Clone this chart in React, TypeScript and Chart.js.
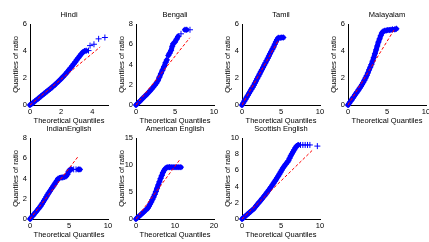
import React, { useEffect, useRef } from 'react';
import { Chart, registerables } from 'chart.js';

Chart.register(...registerables);

const FONT_FAMILY = "'Liberation Sans', Arial, Helvetica, sans-serif";

// ---------- data ----------
const hindiTheo = [0, 0.1, 0.2, 0.3, 0.4, 0.5, 0.6, 0.7, 0.8, 0.9, 1.0, 1.1, 1.2, 1.3, 1.4, 1.5, 1.6, 1.7, 1.8, 1.9, 2.0, 2.1, 2.2, 2.3, 2.4, 2.5, 2.6, 2.7, 2.8, 2.9, 3.0, 3.1, 3.2, 3.3, 3.4, 3.5, 3.6, 3.75, 3.85, 4.1, 4.4, 4.8];
const hindiRatio = [0, 0.08, 0.17, 0.27, 0.36, 0.45, 0.55, 0.64, 0.74, 0.83, 0.93, 1.02, 1.11, 1.21, 1.3, 1.4, 1.5, 1.61, 1.72, 1.83, 1.95, 2.07, 2.19, 2.32, 2.46, 2.6, 2.74, 2.89, 3.04, 3.19, 3.35, 3.5, 3.65, 3.8, 3.92, 4.0, 4.02, 4.03, 4.4, 4.5, 4.9, 5.0];
const hindiRefX = [0, 4.5];
const hindiRefY = [0, 4.3];

const bengaliTheo = [0, 0.2, 0.4, 0.6, 0.8, 1.0, 1.2, 1.4, 1.6, 1.8, 2.0, 2.2, 2.4, 2.6, 2.8, 3.0, 3.2, 3.4, 3.6, 3.8, 3.95, 4.15, 4.3, 4.5, 4.65, 4.76, 4.97, 5.2, 5.4, 5.77, 6.28, 6.5, 6.92];
const bengaliRatio = [0, 0.15, 0.3, 0.45, 0.61, 0.76, 0.91, 1.07, 1.23, 1.4, 1.58, 1.76, 1.95, 2.15, 2.4, 2.75, 3.1, 3.45, 3.8, 4.2, 4.45, 4.9, 5.1, 5.4, 5.8, 6.05, 6.2, 6.5, 6.77, 7.03, 7.43, 7.43, 7.43];
const bengaliRefX = [0, 6.9];
const bengaliRefY = [0, 6.64];

const tamilTheo = [0, 0.15, 0.3, 0.45, 0.6, 0.75, 0.9, 1.05, 1.2, 1.35, 1.5, 1.65, 1.8, 1.95, 2.1, 2.25, 2.4, 2.55, 2.7, 2.85, 3.0, 3.15, 3.3, 3.45, 3.6, 3.75, 3.9, 4.05, 4.2, 4.35, 4.5, 4.66, 4.9, 5.1, 5.3];
const tamilRatio = [0, 0.14, 0.29, 0.43, 0.58, 0.72, 0.87, 1.01, 1.16, 1.3, 1.45, 1.62, 1.78, 1.95, 2.12, 2.29, 2.46, 2.62, 2.79, 2.96, 3.12, 3.29, 3.46, 3.63, 3.8, 3.97, 4.14, 4.3, 4.5, 4.68, 4.85, 4.98, 4.98, 5.0, 5.0];
const tamilRefX = [0, 4.66];
const tamilRefY = [0, 4.79];

const malayalamTheo = [0, 0.15, 0.3, 0.45, 0.6, 0.75, 0.9, 1.05, 1.2, 1.35, 1.5, 1.65, 1.8, 1.95, 2.1, 2.25, 2.4, 2.55, 2.7, 2.85, 3.0, 3.15, 3.3, 3.45, 3.6, 3.75, 3.9, 4.05, 4.2, 4.35, 4.5, 4.7, 4.9, 5.1, 5.3, 5.5, 5.7, 6.0, 6.2];
const malayalamRatio = [0, 0.12, 0.25, 0.37, 0.5, 0.62, 0.75, 0.87, 0.99, 1.12, 1.25, 1.38, 1.52, 1.67, 1.83, 2.0, 2.18, 2.38, 2.6, 2.8, 3.0, 3.25, 3.52, 3.8, 4.08, 4.37, 4.66, 4.9, 5.14, 5.34, 5.45, 5.5, 5.52, 5.55, 5.55, 5.57, 5.6, 5.6, 5.65];
const malayalamRefX = [0, 6.0];
const malayalamRefY = [0, 5.65];

const indianTheo = [0, 0.15, 0.3, 0.45, 0.6, 0.75, 0.9, 1.05, 1.2, 1.35, 1.5, 1.65, 1.8, 1.95, 2.1, 2.25, 2.4, 2.55, 2.7, 2.85, 3.0, 3.15, 3.3, 3.45, 3.6, 3.8, 4.0, 4.2, 4.4, 4.6, 4.8, 4.95, 5.1, 5.3, 5.6, 5.9, 6.2, 6.4];
const indianRatio = [0, 0.13, 0.27, 0.41, 0.55, 0.69, 0.83, 0.97, 1.11, 1.27, 1.45, 1.63, 1.82, 2.0, 2.2, 2.4, 2.58, 2.75, 2.92, 3.09, 3.26, 3.44, 3.62, 3.8, 3.98, 4.05, 4.1, 4.1, 4.15, 4.2, 4.4, 4.7, 4.85, 4.9, 4.9, 4.9, 4.9, 4.9];
const indianRefX = [0, 6.2];
const indianRefY = [0, 6.2];

const americanTheo = [0, 0.3, 0.6, 0.9, 1.2, 1.5, 1.8, 2.1, 2.4, 2.7, 3.0, 3.3, 3.6, 3.9, 4.2, 4.5, 4.8, 5.1, 5.4, 5.7, 6.0, 6.3, 6.6, 6.9, 7.2, 7.5, 7.8, 8.2, 8.6, 9.0, 9.5, 10.0, 10.5, 11.0, 11.5];
const americanRatio = [0, 0.2, 0.4, 0.6, 0.79, 0.99, 1.19, 1.38, 1.58, 1.77, 2.0, 2.35, 2.75, 3.15, 3.6, 4.05, 4.55, 5.1, 5.7, 6.3, 6.9, 7.5, 8.05, 8.6, 9.0, 9.3, 9.5, 9.6, 9.6, 9.6, 9.6, 9.6, 9.6, 9.6, 9.6];
const americanRefX = [0, 11.3];
const americanRefY = [0, 11.05];

const scottishTheo = [0, 0.15, 0.3, 0.45, 0.6, 0.75, 0.9, 1.05, 1.2, 1.35, 1.5, 1.65, 1.8, 1.95, 2.1, 2.25, 2.4, 2.55, 2.7, 2.85, 3.0, 3.15, 3.3, 3.45, 3.6, 3.75, 3.9, 4.05, 4.2, 4.35, 4.5, 4.65, 4.8, 4.95, 5.1, 5.25, 5.4, 5.6, 5.8, 5.95, 6.1, 6.25, 6.4, 6.55, 6.7, 6.85, 7.0, 7.2, 7.5, 7.8, 8.1, 8.4, 8.7, 9.66];
const scottishRatio = [0, 0.12, 0.25, 0.37, 0.5, 0.62, 0.75, 0.87, 1.0, 1.12, 1.25, 1.42, 1.6, 1.78, 1.95, 2.13, 2.3, 2.48, 2.65, 2.83, 3.0, 3.2, 3.4, 3.6, 3.8, 4.0, 4.2, 4.42, 4.65, 4.85, 5.1, 5.3, 5.55, 5.8, 6.05, 6.3, 6.5, 6.75, 7.0, 7.2, 7.5, 7.8, 8.05, 8.3, 8.55, 8.8, 9.0, 9.14, 9.14, 9.14, 9.14, 9.14, 9.14, 9.0];
const scottishRefX = [0, 9.14];
const scottishRefY = [0, 8.6];

// tick labels
const ticks0to4by2 = [0, 2, 4];
const ticks0to6by2 = [0, 2, 4, 6];
const ticks0to8by2 = [0, 2, 4, 6, 8];
const ticks0to10by2 = [0, 2, 4, 6, 8, 10];
const ticks0to10by5 = [0, 5, 10];
const ticks0to20by10 = [0, 10, 20];
const ticks0to15by5 = [0, 5, 10, 15];

const X_TITLE = 'Theoretical Quantiles';
const Y_TITLE = 'Quantiles of ratio';

type PanelSpec = {
  title: string;
  theo: number[];
  ratio: number[];
  refX: number[];
  refY: number[];
  xMax: number;
  yMax: number;
  xTicks: number[];
  yTicks: number[];
  plotLeft: number;
  plotTop: number;
};

const PLOT_W = 78;
const PLOT_H = 81;
const Y_AXIS_W = 30;
const TOP_H = 24;
const X_AXIS_H = 22;
const RIGHT_PAD = 30;

const panels: PanelSpec[] = [
  { title: 'Hindi', theo: hindiTheo, ratio: hindiRatio, refX: hindiRefX, refY: hindiRefY, xMax: 5, yMax: 6, xTicks: ticks0to4by2, yTicks: ticks0to6by2, plotLeft: 30, plotTop: 24 },
  { title: 'Bengali', theo: bengaliTheo, ratio: bengaliRatio, refX: bengaliRefX, refY: bengaliRefY, xMax: 10, yMax: 8, xTicks: ticks0to10by5, yTicks: ticks0to8by2, plotLeft: 136, plotTop: 24 },
  { title: 'Tamil', theo: tamilTheo, ratio: tamilRatio, refX: tamilRefX, refY: tamilRefY, xMax: 10, yMax: 6, xTicks: ticks0to10by5, yTicks: ticks0to6by2, plotLeft: 242, plotTop: 24 },
  { title: 'Malayalam', theo: malayalamTheo, ratio: malayalamRatio, refX: malayalamRefX, refY: malayalamRefY, xMax: 10, yMax: 6, xTicks: ticks0to10by5, yTicks: ticks0to6by2, plotLeft: 348, plotTop: 24 },
  { title: 'IndianEnglish', theo: indianTheo, ratio: indianRatio, refX: indianRefX, refY: indianRefY, xMax: 10, yMax: 8, xTicks: ticks0to10by5, yTicks: ticks0to8by2, plotLeft: 30, plotTop: 138 },
  { title: 'American English', theo: americanTheo, ratio: americanRatio, refX: americanRefX, refY: americanRefY, xMax: 20, yMax: 15, xTicks: ticks0to20by10, yTicks: ticks0to15by5, plotLeft: 136, plotTop: 138 },
  { title: 'Scottish English', theo: scottishTheo, ratio: scottishRatio, refX: scottishRefX, refY: scottishRefY, xMax: 10, yMax: 10, xTicks: ticks0to10by5, yTicks: ticks0to10by2, plotLeft: 242, plotTop: 138 },
];

const font = { family: FONT_FAMILY, size: 7.5, weight: 'normal' as const, lineHeight: 1.2 };
const BLUE = '#0000ff';

// dense runs of markers merge into a solid band; sparse tail markers stay separate
const bandColor = (ctx: any) => {
  const dx = ctx.p1.x - ctx.p0.x;
  const dy = ctx.p1.y - ctx.p0.y;
  return Math.hypot(dx, dy) > 4.5 || Math.abs(dx) > 2 ? 'rgba(0,0,0,0)' : BLUE;
};

function QQPanel({ spec }: { spec: PanelSpec }) {
  const ref = useRef<HTMLCanvasElement | null>(null);
  const w = Y_AXIS_W + PLOT_W + RIGHT_PAD;
  const h = TOP_H + PLOT_H + X_AXIS_H;

  useEffect(() => {
    if (!ref.current) return;
    const points = spec.theo.map((x, i) => ({ x, y: spec.ratio[i] }));
    const refLine = spec.refX.map((x, i) => ({ x, y: spec.refY[i] }));
    const chart = new Chart(ref.current, {
      type: 'scatter',
      data: {
        datasets: [
          {
            data: refLine,
            showLine: true,
            borderColor: '#ff0000',
            borderWidth: 1,
            borderDash: [3, 2],
            pointRadius: 0,
            fill: false,
          },
          {
            data: points,
            pointStyle: 'cross',
            pointRadius: 3,
            pointBorderColor: BLUE,
            pointBackgroundColor: BLUE,
            pointBorderWidth: 1,
            borderColor: BLUE,
            borderWidth: 5,
            borderCapStyle: 'round',
            borderJoinStyle: 'round',
            showLine: true,
            fill: false,
            segment: { borderColor: bandColor },
            clip: false,
          } as any,
        ],
      },
      options: {
        animation: false,
        responsive: false,
        maintainAspectRatio: false,
        devicePixelRatio: 1,
        layout: { padding: 0 },
        plugins: {
          legend: { display: false },
          tooltip: { enabled: false },
          title: {
            display: true,
            text: spec.title,
            color: '#000',
            font,
            padding: { top: 10.5, bottom: 4.5 },
          },
        },
        scales: {
          x: {
            type: 'linear',
            min: 0,
            max: spec.xMax,
            afterBuildTicks: (s: any) => {
              s.ticks = spec.xTicks.map((v) => ({ value: v }));
            },
            afterFit: (s: any) => {
              s.height = X_AXIS_H;
            },
            grid: { display: false, drawTicks: false },
            border: { display: true, color: '#000', width: 1 },
            ticks: { color: '#000', font, padding: 2, maxRotation: 0, autoSkip: false },
            title: { display: true, text: X_TITLE, color: '#000', font, padding: { top: 0, bottom: 1.5 } },
          },
          y: {
            type: 'linear',
            min: 0,
            max: spec.yMax,
            afterBuildTicks: (s: any) => {
              s.ticks = spec.yTicks.map((v) => ({ value: v }));
            },
            afterFit: (s: any) => {
              s.width = Y_AXIS_W;
            },
            grid: { display: false, drawTicks: false },
            border: { display: true, color: '#000', width: 1 },
            ticks: { color: '#000', font, padding: 3, autoSkip: false },
            title: { display: true, text: Y_TITLE, color: '#000', font, padding: { top: 11, bottom: 0 } },
          },
          // empty right-hand spacer so the title centres over the plot area
          ySpacer: {
            type: 'linear',
            position: 'right',
            min: 0,
            max: spec.yMax,
            afterFit: (s: any) => {
              s.width = RIGHT_PAD;
            },
            grid: { display: false, drawTicks: false },
            border: { display: false },
            ticks: { display: false },
            title: { display: false },
          },
        },
      } as any,
    });
    return () => chart.destroy();
  }, [spec]);

  return (
    <canvas
      ref={ref}
      width={w}
      height={h}
      style={{
        position: 'absolute',
        left: spec.plotLeft - Y_AXIS_W,
        top: spec.plotTop - TOP_H,
        width: w,
        height: h,
      }}
    />
  );
}

export default function App() {
  return (
    <div style={{ position: 'absolute', left: 0, top: 0, width: 429, height: 242, background: '#fff' }}>
      {panels.map((p) => (
        <QQPanel key={p.title} spec={p} />
      ))}
    </div>
  );
}
